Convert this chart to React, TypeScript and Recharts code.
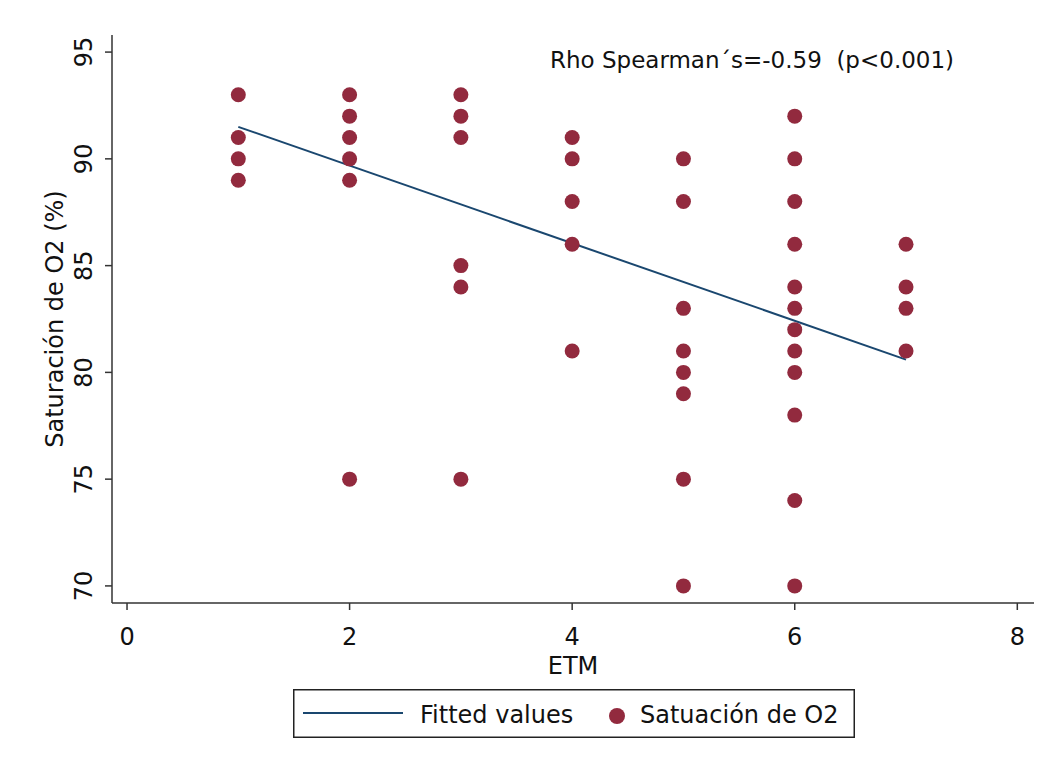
import { Customized, Legend, Scatter, ScatterChart, XAxis, YAxis } from "recharts";

const FONT = "'DejaVu Sans', sans-serif";
const DOT = "#922a3e";
const FIT = "#1a476f";
const AXIS = "#333";

// ETM levels and the O2 saturation readings seen at each level
const etmLevels = [1, 2, 3, 4, 5, 6, 7];
const satEtm1 = [93, 91, 90, 89];
const satEtm2 = [93, 92, 91, 90, 89, 75];
const satEtm3 = [93, 92, 91, 85, 84, 75];
const satEtm4 = [91, 90, 88, 86, 81];
const satEtm5 = [90, 88, 83, 81, 80, 79, 75, 70];
const satEtm6 = [92, 90, 88, 86, 84, 83, 82, 81, 80, 78, 74, 70];
const satEtm7 = [86, 84, 83, 81];
const satGroups = [satEtm1, satEtm2, satEtm3, satEtm4, satEtm5, satEtm6, satEtm7];

// fitted regression line, ends
const fitX = [1, 7];
const fitY = [91.5, 80.6];

const xTicks = [0, 2, 4, 6, 8];
const yTicks = [70, 75, 80, 85, 90, 95];

const points = etmLevels.flatMap((etm, i) => satGroups[i].map((sat) => ({ x: etm, y: sat })));
const fitted = fitX.map((x, i) => ({ x, y: fitY[i] }));

const YTick = ({ x, y, payload }: any) => (
  <text x={x} y={y} transform={`rotate(-90 ${x} ${y})`} textAnchor="middle" fontSize={24} fontFamily={FONT} fill="#111">
    {payload.value}
  </text>
);

const Dot = ({ cx, cy }: any) => <circle cx={cx} cy={cy} r={7.5} fill={DOT} />;

const NoDot = () => <g />;

const Title = () => (
  <text x={550} y={68} fontSize={23} fontFamily={FONT} fill="#111" style={{ whiteSpace: "pre" }}>
    {"Rho Spearman´s=-0.59  (p<0.001)"}
  </text>
);

const LegendBox = () => (
  <svg width={562} height={49} style={{ display: "block" }}>
    <rect x={0.75} y={0.75} width={560.5} height={47.5} fill="#fff" stroke="#222" strokeWidth={1.5} />
    <line x1={10} x2={110} y1={24} y2={24} stroke={FIT} strokeWidth={2} />
    <text x={127} y={34} fontSize={24} fontFamily={FONT} fill="#111">
      Fitted values
    </text>
    <circle cx={324} cy={27} r={8} fill={DOT} />
    <text x={347} y={34} fontSize={24} fontFamily={FONT} fill="#111">
      Satuación de O2
    </text>
  </svg>
);

export default function App() {
  return (
    <div style={{ position: "absolute", left: 0, top: 0, background: "#fff" }}>
      <ScatterChart width={1051} height={769} margin={{ top: 35, right: 17, left: 0, bottom: 31 }}>
        <XAxis
          type="number"
          dataKey="x"
          domain={[-0.135, 8.15]}
          ticks={xTicks}
          height={86}
          tickSize={7}
          tickMargin={18}
          stroke={AXIS}
          strokeWidth={1.5}
          tick={{ fontSize: 24, fontFamily: FONT, fill: "#111" }}
          label={{
            content: () => (
              <text x={573} y={674} textAnchor="middle" fontSize={24} fontFamily={FONT} fill="#111">
                ETM
              </text>
            ),
          }}
        />
        <YAxis
          type="number"
          dataKey="y"
          domain={[69.2, 95.8]}
          ticks={yTicks}
          width={112}
          tickSize={7}
          tickMargin={13}
          stroke={AXIS}
          strokeWidth={1.5}
          tick={<YTick />}
          label={{
            content: () => (
              <text
                x={63}
                y={319}
                transform="rotate(-90 63 319)"
                textAnchor="middle"
                fontSize={24}
                fontFamily={FONT}
                fill="#111"
              >
                Saturación de O2 (%)
              </text>
            ),
          }}
        />
        <Scatter
          name="Fitted values"
          data={fitted}
          line={{ stroke: FIT, strokeWidth: 2 }}
          shape={<NoDot />}
          isAnimationActive={false}
        />
        <Scatter name="Satuación de O2" data={points} shape={<Dot />} isAnimationActive={false} />
        <Customized component={<Title />} />
        <Legend
          verticalAlign="bottom"
          content={() => <LegendBox />}
          wrapperStyle={{ left: 293, width: 562, height: 49, bottom: 31 }}
        />
      </ScatterChart>
    </div>
  );
}
